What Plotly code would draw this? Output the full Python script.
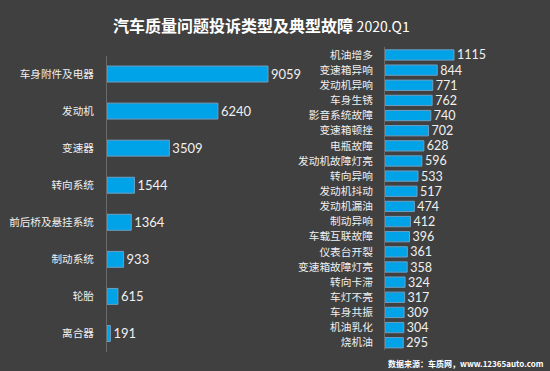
import plotly.graph_objects as go

left_cats = ["车身附件及电器", "发动机", "变速器", "转向系统", "前后桥及悬挂系统", "制动系统", "轮胎", "离合器"]
left_vals = [9059, 6240, 3509, 1544, 1364, 933, 615, 191]

right_cats = ["机油增多", "变速箱异响", "发动机异响", "车身生锈", "影音系统故障", "变速箱顿挫", "电瓶故障",
              "发动机故障灯亮", "转向异响", "发动机抖动", "发动机漏油", "制动异响", "车载互联故障",
              "仪表台开裂", "变速箱故障灯亮", "转向卡滞", "车灯不亮", "车身共振", "机油乳化", "烧机油"]
right_vals = [1115, 844, 771, 762, 740, 702, 628, 596, 533, 517, 474, 412, 396, 361, 358, 324, 317, 309, 304, 295]

W, H = 550, 371
BG = "#404040"
BAR = "#00a2e8"
EDGE = "#6f9ec0"
TXT = "#f0f0f0"
FONT = "Noto Sans CJK SC"
NUMFONT = "Lato"

fig = go.Figure()
fig.add_trace(go.Bar(
    x=left_vals, y=left_cats, orientation="h", xaxis="x", yaxis="y",
    marker=dict(color=BAR, line=dict(color=EDGE, width=1)),
    text=left_vals, textposition="outside", cliponaxis=False, constraintext="none",
    textfont=dict(color=TXT, size=13, family=NUMFONT), width=0.43,
))
fig.add_trace(go.Bar(
    x=right_vals, y=right_cats, orientation="h", xaxis="x2", yaxis="y2",
    marker=dict(color=BAR, line=dict(color=EDGE, width=1)),
    text=right_vals, textposition="outside", cliponaxis=False, constraintext="none",
    textfont=dict(color=TXT, size=12.5, family=NUMFONT), width=0.68,
))

def px(x):
    return x / W

def py(y):
    return 1 - y / H

fig.update_layout(
    width=W, height=H,
    margin=dict(l=0, r=0, t=0, b=0),
    paper_bgcolor=BG, plot_bgcolor=BG,
    showlegend=False,
    font=dict(family=FONT, color=TXT, size=11),
    xaxis=dict(domain=[px(107), px(300)], range=[0, 10860], visible=False, fixedrange=True),
    yaxis=dict(domain=[py(352), py(55.5)], anchor="x", autorange="reversed",
               showline=True, linecolor="#6a6a6a", linewidth=1, showgrid=False,
               ticks="", ticklabelstandoff=10, tickfont=dict(size=10.6, color=TXT, family=FONT)),
    xaxis2=dict(domain=[px(385), px(540)], range=[0, 2505], visible=False, anchor="y2"),
    yaxis2=dict(domain=[py(350.3), py(47.4)], anchor="x2", autorange="reversed",
                showline=True, linecolor="#6a6a6a", linewidth=1, showgrid=False,
                ticks="", ticklabelstandoff=9, tickfont=dict(size=10.7, color=TXT, family=FONT)),
    annotations=[
        dict(text="<b>汽车质量问题投诉类型及典型故障</b> <span style='font-size:14px'>2020.Q1</span>",
             x=px(261), y=py(25), xref="paper", yref="paper", showarrow=False,
             font=dict(size=16, color="#ffffff", family=FONT), xanchor="center", yanchor="middle"),
        dict(text="<b>数据来源：车质网，www.12365auto.com</b>",
             x=px(546), y=py(363), xref="paper", yref="paper", showarrow=False,
             font=dict(size=8, color="#ffffff", family=FONT), xanchor="right", yanchor="middle"),
    ],
)

fig.write_html("out.html", config={"displayModeBar": False},
               post_script="document.body.style.margin='0';document.body.style.background='" + BG + "';")
